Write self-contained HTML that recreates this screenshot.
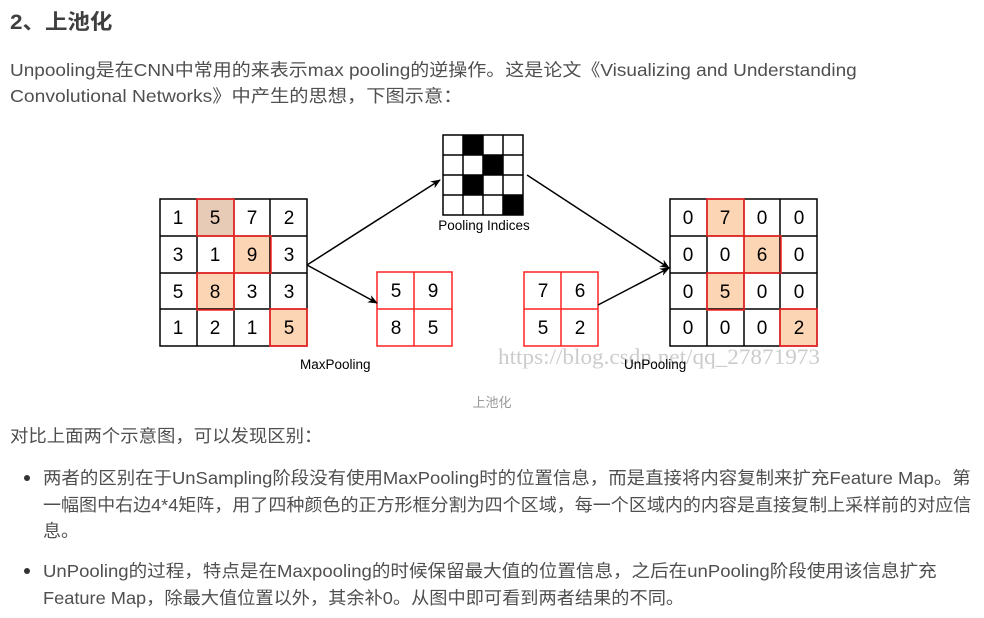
<!DOCTYPE html>
<html><head><meta charset="utf-8"><style>
body{margin:0;width:984px;height:618px;background:#fff;position:relative;overflow:hidden;font-family:"Liberation Sans","Noto Sans CJK SC",sans-serif;color:#4f4f4f}
.t{position:absolute;white-space:nowrap;font-size:17.5px;line-height:26px;transform-origin:0 0}
.dot{position:absolute;width:6px;height:6px;border-radius:50%;background:#333}
</style></head><body>
<div class="t" style="left:10px;top:10px;font-size:21px;font-weight:bold;color:#3f3f3f;transform:scaleX(1.07)">2、上池化</div>
<div class="t" style="left:10px;top:57px;transform:scaleX(1.086)">Unpooling是在CNN中常用的来表示max pooling的逆操作。这是论文《Visualizing and Understanding</div>
<div class="t" style="left:10px;top:83px;transform:scaleX(1.10)">Convolutional Networks》中产生的思想，下图示意：</div>

<svg style="position:absolute;left:0;top:0" width="984" height="618" font-family="Liberation Sans, DejaVu Sans, sans-serif">
<defs><marker id="a" markerWidth="10" markerHeight="8" refX="9" refY="4" orient="auto" markerUnits="userSpaceOnUse"><path d="M0,0L10,4L0,8L3,4z" fill="#000"/></marker></defs>
<rect x="160" y="199" width="147" height="147" fill="#fff"/>
<rect x="197" y="199" width="37" height="37" fill="#e8cbb6"/>
<rect x="234" y="236" width="37" height="37" fill="#fcd5b5"/>
<rect x="197" y="273" width="37" height="37" fill="#fcd5b5"/>
<rect x="270" y="309" width="37" height="37" fill="#fcd5b5"/>
<g stroke="#000" stroke-width="1.5">
<line x1="197" y1="199" x2="197" y2="346"/><line x1="234" y1="199" x2="234" y2="346"/><line x1="270" y1="199" x2="270" y2="346"/>
<line x1="160" y1="236" x2="307" y2="236"/><line x1="160" y1="273" x2="307" y2="273"/><line x1="160" y1="309" x2="307" y2="309"/>
<rect x="160" y="199" width="147" height="147" fill="none"/>
</g>
<g stroke="#f22" stroke-width="1.5" fill="none">
<rect x="197" y="199" width="37" height="37"/><rect x="234" y="236" width="37" height="37"/><rect x="197" y="273" width="37" height="37"/><rect x="270" y="309" width="37" height="37"/>
</g>
<g font-size="19" text-anchor="middle" fill="#000">
<text x="178" y="224">1</text><text x="215" y="224">5</text><text x="252" y="224">7</text><text x="289" y="224">2</text>
<text x="178" y="261">3</text><text x="215" y="261">1</text><text x="252" y="261">9</text><text x="289" y="261">3</text>
<text x="178" y="298">5</text><text x="215" y="298">8</text><text x="252" y="298">3</text><text x="289" y="298">3</text>
<text x="178" y="334">1</text><text x="215" y="334">2</text><text x="252" y="334">1</text><text x="289" y="334">5</text>
</g>
<rect x="707" y="199" width="37" height="37" fill="#fcd5b5"/>
<rect x="744" y="236" width="37" height="37" fill="#fcd5b5"/>
<rect x="707" y="273" width="37" height="37" fill="#fcd5b5"/>
<rect x="780" y="309" width="37" height="37" fill="#fcd5b5"/>
<g stroke="#000" stroke-width="1.5" fill="none">
<line x1="707" y1="199" x2="707" y2="346"/><line x1="744" y1="199" x2="744" y2="346"/><line x1="780" y1="199" x2="780" y2="346"/>
<line x1="670" y1="236" x2="817" y2="236"/><line x1="670" y1="273" x2="817" y2="273"/><line x1="670" y1="309" x2="817" y2="309"/>
<rect x="670" y="199" width="147" height="147"/>
</g>
<g stroke="#f22" stroke-width="1.5" fill="none">
<rect x="707" y="199" width="37" height="37"/><rect x="744" y="236" width="37" height="37"/><rect x="707" y="273" width="37" height="37"/><rect x="780" y="309" width="37" height="37"/>
</g>
<g font-size="19" text-anchor="middle" fill="#000">
<text x="688" y="224">0</text><text x="725" y="224">7</text><text x="762" y="224">0</text><text x="799" y="224">0</text>
<text x="688" y="261">0</text><text x="725" y="261">0</text><text x="762" y="261">6</text><text x="799" y="261">0</text>
<text x="688" y="298">0</text><text x="725" y="298">5</text><text x="762" y="298">0</text><text x="799" y="298">0</text>
<text x="688" y="334">0</text><text x="725" y="334">0</text><text x="762" y="334">0</text><text x="799" y="334">2</text>
</g>
<g stroke="#f22" stroke-width="1.5" fill="none">
<rect x="377" y="272" width="75" height="74"/><line x1="414" y1="272" x2="414" y2="346"/><line x1="377" y1="309" x2="452" y2="309"/>
<rect x="524" y="272" width="74" height="74"/><line x1="561" y1="272" x2="561" y2="346"/><line x1="524" y1="309" x2="598" y2="309"/>
</g>
<g font-size="19" text-anchor="middle" fill="#000">
<text x="396" y="297">5</text><text x="433" y="297">9</text><text x="396" y="334">8</text><text x="433" y="334">5</text>
<text x="543" y="297">7</text><text x="580" y="297">6</text><text x="543" y="334">5</text><text x="580" y="334">2</text>
</g>
<rect x="463" y="135" width="20" height="20" fill="#000"/>
<rect x="483" y="155" width="20" height="20" fill="#000"/>
<rect x="463" y="175" width="20" height="20" fill="#000"/>
<rect x="503" y="195" width="20" height="20" fill="#000"/>
<g stroke="#000" stroke-width="1.5" fill="none">
<rect x="443" y="135" width="80" height="80"/>
<line x1="463" y1="135" x2="463" y2="215"/><line x1="483" y1="135" x2="483" y2="215"/><line x1="503" y1="135" x2="503" y2="215"/>
<line x1="443" y1="155" x2="523" y2="155"/><line x1="443" y1="175" x2="523" y2="175"/><line x1="443" y1="195" x2="523" y2="195"/>
</g>
<text x="484" y="230" font-size="13.5" text-anchor="middle" fill="#000">Pooling Indices</text>
<g stroke="#000" stroke-width="1.5" marker-end="url(#a)">
<line x1="307" y1="265" x2="440" y2="180"/>
<line x1="307" y1="265" x2="377" y2="303"/>
<line x1="527" y1="175" x2="669" y2="268"/>
<line x1="598" y1="305" x2="669" y2="268"/>
</g>
<text x="300" y="369" font-size="13.5" fill="#000">MaxPooling</text>
<text x="498" y="364" font-size="22" fill="#ccc" font-family="Liberation Serif, serif" textLength="322" lengthAdjust="spacingAndGlyphs">https://blog.csdn.net/qq_27871973</text>
<text x="624" y="369" font-size="13.5" fill="#000">UnPooling</text>
<text x="492" y="407" font-size="13" text-anchor="middle" fill="#999" font-family="Liberation Sans, Noto Sans CJK SC, sans-serif">上池化</text>
</svg>

<div class="t" style="left:10px;top:423px;transform:scaleX(1.05)">对比上面两个示意图，可以发现区别：</div>
<div class="dot" style="left:24px;top:475px"></div>
<div class="t" style="left:43px;top:465px;transform:scaleX(1.053)">两者的区别在于UnSampling阶段没有使用MaxPooling时的位置信息，而是直接将内容复制来扩充Feature Map。第</div>
<div class="t" style="left:43px;top:492px;transform:scaleX(1.03)">一幅图中右边4*4矩阵，用了四种颜色的正方形框分割为四个区域，每一个区域内的内容是直接复制上采样前的对应信</div>
<div class="t" style="left:43px;top:518px;transform:scaleX(1.03)">息。</div>
<div class="dot" style="left:24px;top:568px"></div>
<div class="t" style="left:43px;top:558px;transform:scaleX(1.06)">UnPooling的过程，特点是在Maxpooling的时候保留最大值的位置信息，之后在unPooling阶段使用该信息扩充</div>
<div class="t" style="left:43px;top:585px;transform:scaleX(1.04)">Feature Map，除最大值位置以外，其余补0。从图中即可看到两者结果的不同。</div>
</body></html>
